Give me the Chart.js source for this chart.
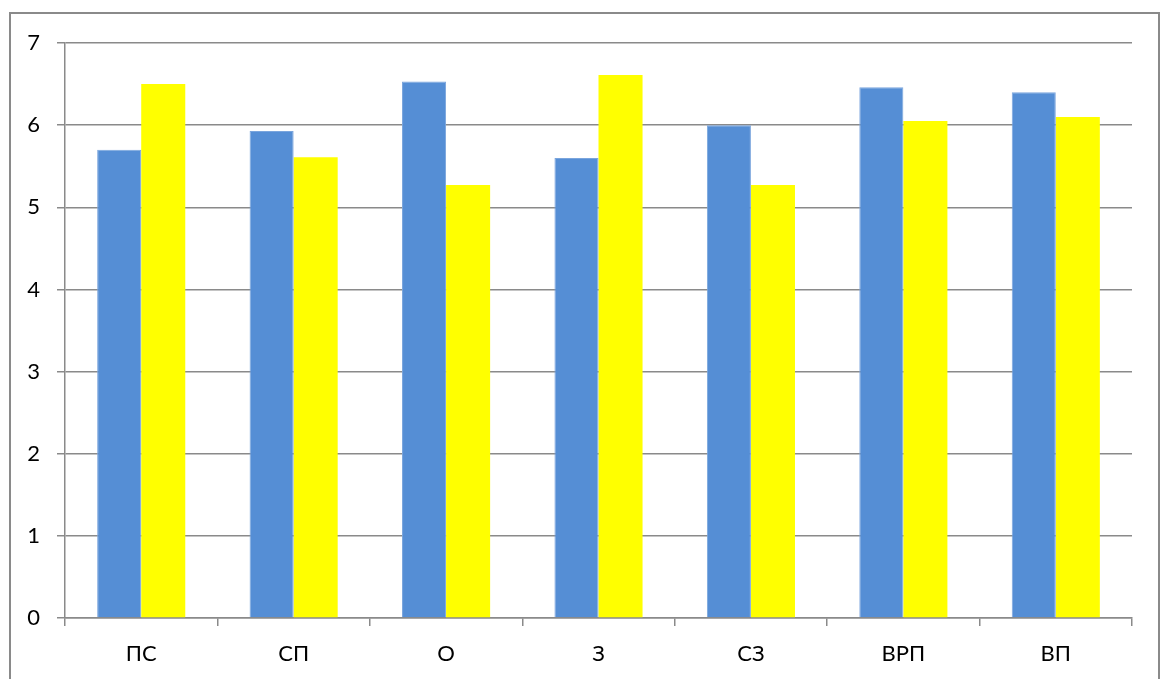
<!DOCTYPE html>
<html>
<head>
<meta charset="utf-8">
<script src="https://cdn.jsdelivr.net/npm/chart.js@4.4.1/dist/chart.umd.min.js"></script>
<style>
  html, body { margin: 0; padding: 0; background: #ffffff; }
  #wrap { position: relative; width: 1168px; height: 679px; overflow: hidden; }
  #frame { position: absolute; left: 9px; top: 12px; width: 1151px; height: 720px; border: 2px solid #8a8a8a; box-sizing: border-box; }
  canvas { position: absolute; left: 0; top: 0; }
</style>
</head>
<body>
<div id="wrap">
  <div id="frame"></div>
  <canvas id="chart" width="1168" height="679"></canvas>
</div>
<script>
// Categories along the x axis
const categories = ['ПС', 'СП', 'О', 'З', 'СЗ', 'ВРП', 'ВП'];
// First series (blue bars)
const seriesBlue = [5.70, 5.93, 6.53, 5.60, 6.00, 6.46, 6.40];
// Second series (yellow bars)
const seriesYellow = [6.50, 5.61, 5.27, 6.61, 5.27, 6.05, 6.10];
// Value axis ticks
const yTicks = [0, 1, 2, 3, 4, 5, 6, 7];

const axisColor = '#8a8a8a';
const tickFont = { family: 'Lato, "Open Sans", sans-serif', size: 22 };

new Chart(document.getElementById('chart'), {
  type: 'bar',
  data: {
    labels: categories,
    datasets: [
      {
        data: seriesBlue,
        backgroundColor: '#558ed5',
        borderColor: '#7aa5dd',
        borderWidth: 1,
        borderSkipped: 'bottom',
        categoryPercentage: 0.578,
        barPercentage: 1
      },
      {
        data: seriesYellow,
        backgroundColor: '#ffff00',
        borderWidth: 0,
        categoryPercentage: 0.578,
        barPercentage: 1
      }
    ]
  },
  options: {
    responsive: false,
    animation: false,
    events: [],
    layout: { padding: { left: 0, top: 43, right: 36, bottom: 0 } },
    plugins: { legend: { display: false }, tooltip: { enabled: false } },
    scales: {
      x: {
        grid: { display: true, drawOnChartArea: false, drawTicks: true, tickLength: 8, color: axisColor, lineWidth: 1.5, offset: true },
        border: { display: true, color: axisColor, width: 1.5 },
        ticks: { color: '#000000', font: tickFont, padding: 15, maxRotation: 0 },
        afterFit: (s) => { s.height = 61; }
      },
      y: {
        min: 0,
        max: 7,
        afterBuildTicks: (s) => { s.ticks = yTicks.map(v => ({ value: v })); },
        grid: { display: true, drawTicks: true, tickLength: 8, color: axisColor, lineWidth: 1.5 },
        border: { display: true, color: axisColor, width: 1.5 },
        ticks: { color: '#000000', font: tickFont, padding: 17 },
        afterFit: (s) => { s.width = 65; }
      }
    }
  }
});
</script>
</body>
</html>
